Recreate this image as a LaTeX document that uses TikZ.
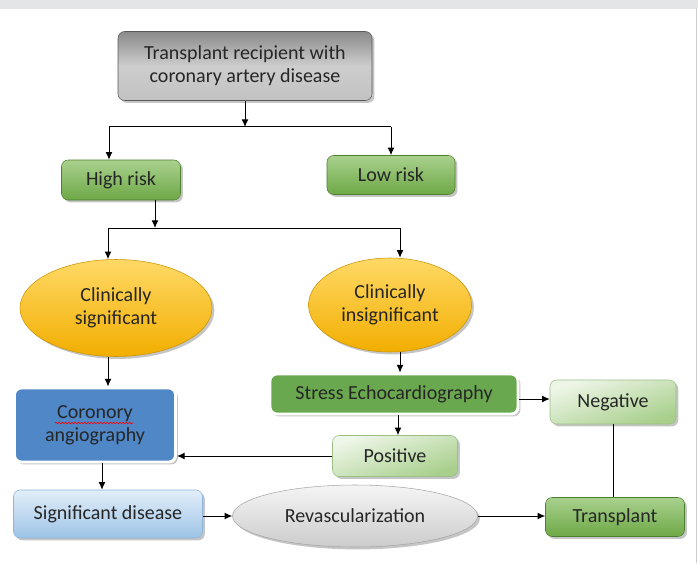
\documentclass[tikz,border=0pt]{standalone}
\usepackage{fontspec}
\setmainfont{Carlito}
\usepackage{xcolor}
\usetikzlibrary{arrows.meta, positioning, shapes.geometric, shadows, decorations.pathmorphing}
\definecolor{barGrey}{HTML}{E4E5E7}
\definecolor{textDark}{HTML}{262626}
\definecolor{topDark}{HTML}{8A8A8A}
\definecolor{topMid}{HTML}{CDCDCD}
\definecolor{topLight}{HTML}{C2C2C2}
\definecolor{riskLight}{HTML}{A9D18E}
\definecolor{riskDark}{HTML}{6EA846}
\definecolor{riskEdge}{HTML}{4E7F30}
\definecolor{ovalLight}{HTML}{FFD966}
\definecolor{ovalDark}{HTML}{F2AE00}
\definecolor{ovalEdge}{HTML}{C99400}
\definecolor{echoGreen}{HTML}{6AA84F}
\definecolor{angioBlue}{HTML}{4F87C7}
\definecolor{resLight}{HTML}{EEF6E8}
\definecolor{resDark}{HTML}{A8CF8C}
\definecolor{resEdge}{HTML}{9BBF85}
\definecolor{disLight}{HTML}{E2EEF9}
\definecolor{disDark}{HTML}{9DC3E6}
\definecolor{disEdge}{HTML}{8EB4DA}
\tikzset{
  base/.style={align=center, inner sep=0pt, rounded corners=5pt},
  softshadow/.style={drop shadow={shadow xshift=1.8pt, shadow yshift=-1.8pt, opacity=0.45}},
  greybox/.style={base, draw=gray!70!black, top color=topDark, bottom color=topLight, middle color=topMid, softshadow},
  riskbox/.style={base, draw=riskEdge, top color=riskLight, bottom color=riskDark, softshadow},
  oval/.style={ellipse, inner sep=0pt, align=center, draw=ovalEdge, top color=ovalLight, bottom color=ovalDark, softshadow},
  solidbox/.style={base, fill=#1, draw=white, line width=2.2pt, softshadow},
  resultbox/.style={base, draw=resEdge, top color=resLight, bottom color=resDark, shading angle=20, softshadow},
  diseasebox/.style={base, draw=disEdge, top color=disLight, bottom color=disDark, softshadow},
  revasc/.style={ellipse, inner sep=0pt, draw=gray!70, top color=gray!8, bottom color=gray!40, softshadow},
  arrow/.style={-{Latex[length=2mm, width=1.8mm]}, line width=0.75pt},
  link/.style={line width=0.75pt},
  spell/.style={red, line width=0.45pt, decorate, decoration={snake, amplitude=0.6pt, segment length=2.4pt}},
  every node/.style={font=\fontsize{15}{17.5}\selectfont, text=textDark}
}

\begin{document}
\begin{tikzpicture}[x=0.75pt, y=-0.75pt]
    \useasboundingbox (0,0) rectangle (698,563);
    \fill[white] (0,0) rectangle (698,563);
    \fill[barGrey] (0,0) rectangle (698,9);
    \draw[gray!40, line width=0.75pt] (696,9) -- (696,563);

    % nodes
    \node[greybox, minimum width=190.5pt, minimum height=51.75pt] (recip) at (245,66) {Transplant recipient with\\coronary artery disease};
    \node[riskbox, minimum width=89.25pt, minimum height=30pt] (high) at (121,180) {High risk};
    \node[riskbox, minimum width=96pt, minimum height=29.25pt] (low) at (391,175) {Low risk};
    \node[oval, minimum width=144pt, minimum height=72.75pt] (sig) at (116,308) {Clinically\\significant};
    \node[oval, minimum width=122.25pt, minimum height=70.5pt] (insig) at (390,305) {Clinically\\insignificant};
    \node[solidbox=angioBlue, minimum width=120.75pt, minimum height=55.5pt] (angio) at (95,425) {Coronory\\angiography};
    \node[solidbox=echoGreen, minimum width=186pt, minimum height=30pt] (echo) at (394,394) {Stress Echocardiography};
    \node[resultbox, minimum width=94.5pt, minimum height=33pt] (neg) at (613,402) {Negative};
    \node[resultbox, minimum width=93.75pt, minimum height=30.75pt] (pos) at (395,456) {Positive};
    \node[diseasebox, minimum width=141.75pt, minimum height=36pt] (disease) at (108,514) {Significant disease};
    \node[revasc, minimum width=183.75pt, minimum height=46.5pt] (revasc) at (355,516) {Revascularization};
    \node[riskbox, minimum width=104.25pt, minimum height=29.25pt] (tx) at (615,517) {Transplant};

    % spell-check mark under "Coronory"
    \draw[spell] ([shift={(-40,-2)}]angio.center) -- ([shift={(38,-2)}]angio.center);

    % junctions
    \coordinate (split1) at (245,127);
    \coordinate (split1L) at (109,127);
    \coordinate (split1R) at (391,127);
    \coordinate (split2) at (155,228);
    \coordinate (split2L) at (108,228);
    \coordinate (split2R) at (400,228);
    \coordinate (colB) at (102,0);
    \coordinate (colC) at (398,0);
    \coordinate (rowE) at (0,399);

    % connectors
    \draw[arrow] (recip.south) -- (split1);
    \draw[link] (split1L) -- (split1R);
    \draw[arrow] (split1L) -- (split1L |- high.north);
    \draw[arrow] (split1R) -- (low.north);
    \draw[arrow] (split2 |- high.south) -- (split2);
    \draw[link] (split2L) -- (split2R);
    \draw[arrow] (split2L) -- (split2L |- sig.north);
    \draw[arrow] (split2R) -- (split2R |- insig.north);
    \draw[arrow] (split2L |- sig.south) -- (split2L |- angio.north);
    \draw[arrow] (split2R |- insig.south) -- (split2R |- echo.north);
    \draw[arrow] (echo.east |- rowE) -- (neg.west |- rowE);
    \draw[arrow] (colC |- echo.south) -- (colC |- pos.north);
    \draw[arrow] (pos.west) -- (pos.west -| angio.east);
    \draw[arrow] (colB |- angio.south) -- (colB |- disease.north);
    \draw[arrow] (disease.east |- revasc) -- (revasc.west);
    \draw[arrow] (revasc.east) -- (revasc.east -| tx.west);
    \draw[link] (neg.south) -- (neg.south |- tx.north);
\end{tikzpicture}
\end{document}
